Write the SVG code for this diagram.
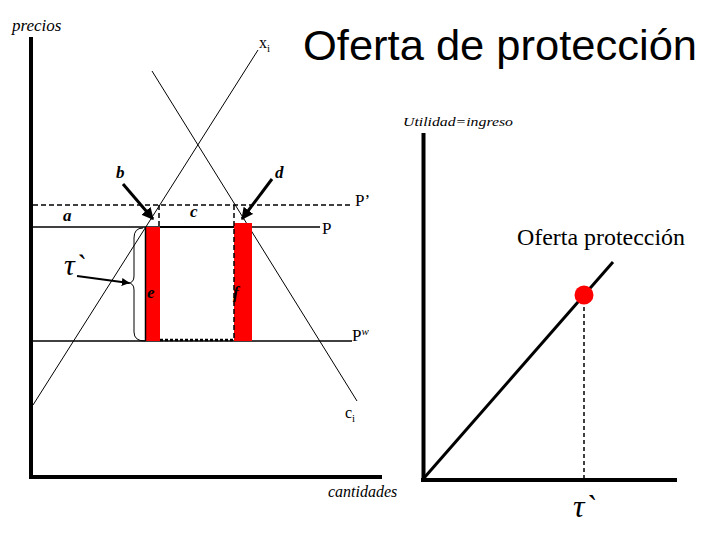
<svg xmlns="http://www.w3.org/2000/svg" width="720" height="540" viewBox="0 0 720 540">
<style>
.ser{font-family:"Liberation Serif","Times New Roman",serif;fill:#000}
.it{font-style:italic}
.lbl{font-family:"Liberation Serif","Times New Roman",serif;font-style:italic;font-weight:bold;font-size:17px;fill:#000}
.thin{stroke:#000;stroke-width:1;fill:none}
.axis{stroke:#000;stroke-width:4;fill:none}
.dash{stroke:#000;stroke-width:1.5;stroke-dasharray:5,3;fill:none}
.bar{fill:#ff0000}
</style>
<defs>
<marker id="ah" viewBox="0 0 10 10" refX="9" refY="5" markerWidth="4" markerHeight="4" orient="auto">
<path d="M0,0 L10,5 L0,10 z" fill="#000"/>
</marker>
</defs>
<rect width="720" height="540" fill="#fff"/>

<g id="title"><text x="303" y="60" font-family="Liberation Sans,Arial,sans-serif" font-size="42" textLength="394" lengthAdjust="spacingAndGlyphs">Oferta de protección</text></g>

<g id="left-axes">
<line class="axis" x1="31" y1="37" x2="31" y2="479"/>
<line class="axis" x1="29" y1="477" x2="382" y2="477"/>
<text class="ser it" x="12" y="31" font-size="17">precios</text>
<text class="ser it" x="328" y="497" font-size="16">cantidades</text>
</g>

<g id="curves">
<line class="thin" x1="258" y1="50" x2="33" y2="405"/>
<line class="thin" x1="152" y1="71" x2="357" y2="401"/>
<text class="ser" x="259" y="48" font-size="16">x<tspan font-size="11" dy="4">i</tspan></text>
<text class="ser" x="345" y="418" font-size="16">c<tspan font-size="11" dy="4">i</tspan></text>
</g>

<g id="price-lines">
<line class="dash" x1="33" y1="205" x2="353" y2="205"/>
<line stroke="#000" stroke-width="1.3" x1="33" y1="227" x2="320" y2="227"/>
<line stroke="#000" stroke-width="1.3" x1="33" y1="341" x2="352" y2="341"/>
<text class="ser" x="355" y="206" font-size="17">P’</text>
<text class="ser" x="322" y="234" font-size="17">P</text>
<text class="ser" x="352" y="341" font-size="17">P<tspan font-size="11" dy="-6" font-style="italic">w</tspan></text>
</g>

<g id="bars">
<rect class="bar" x="145" y="227" width="15" height="114"/>
<rect class="bar" x="234" y="223" width="18" height="118"/>
<line stroke="#000" stroke-width="1.5" x1="145.5" y1="227" x2="145.5" y2="341"/>
<line stroke="#000" stroke-width="2.2" x1="160" y1="227" x2="234" y2="227"/>
<line class="dash" x1="159" y1="205" x2="159" y2="227"/>
<line class="dash" x1="234" y1="205" x2="234" y2="341"/>
<line stroke="#000" stroke-width="2.5" stroke-dasharray="3,2" x1="160" y1="340" x2="234" y2="340"/>
</g>

<g id="brace">
<path class="thin" stroke-width="1.8" d="M143,228 Q134,228 134,238 L134,276 Q134,283 128,283 Q134,283 134,290 L134,332 Q134,341 145,341"/>
</g>

<g id="labels">
<text class="lbl" x="63" y="221">a</text>
<text class="lbl" x="116" y="178">b</text>
<text class="lbl" x="190" y="217">c</text>
<text class="lbl" x="275" y="178">d</text>
<text class="lbl" x="147" y="298" font-size="15">e</text>
<text class="lbl" x="233" y="298">f</text>
<text class="ser it" x="64" y="275" font-size="30">τ`</text>
</g>

<g id="connectors">
<line stroke="#000" stroke-width="3" x1="123" y1="184" x2="153" y2="219" marker-end="url(#ah)"/>
<line stroke="#000" stroke-width="3" x1="272" y1="179" x2="242" y2="219" marker-end="url(#ah)"/>
<line stroke="#000" stroke-width="2" x1="77" y1="276" x2="129" y2="283" marker-end="url(#ah)"/>
</g>

<g id="right-panel">
<text class="ser it" x="403" y="126" font-size="13" textLength="110" lengthAdjust="spacingAndGlyphs">Utilidad=ingreso</text>
<line class="axis" x1="423.5" y1="133" x2="423.5" y2="482"/>
<line class="axis" x1="421" y1="480" x2="677" y2="480"/>
<line stroke="#000" stroke-width="3" x1="424" y1="478" x2="613" y2="262"/>
<line stroke="#000" stroke-width="1.5" stroke-dasharray="4,3" x1="584" y1="300" x2="584" y2="478"/>
<circle cx="584" cy="295" r="9.5" fill="#ff0000"/>
<text class="ser" x="517" y="245" font-size="23" textLength="168" lengthAdjust="spacingAndGlyphs">Oferta protección</text>
<text class="ser it" x="573" y="517" font-size="32">τ`</text>
</g>
</svg>
